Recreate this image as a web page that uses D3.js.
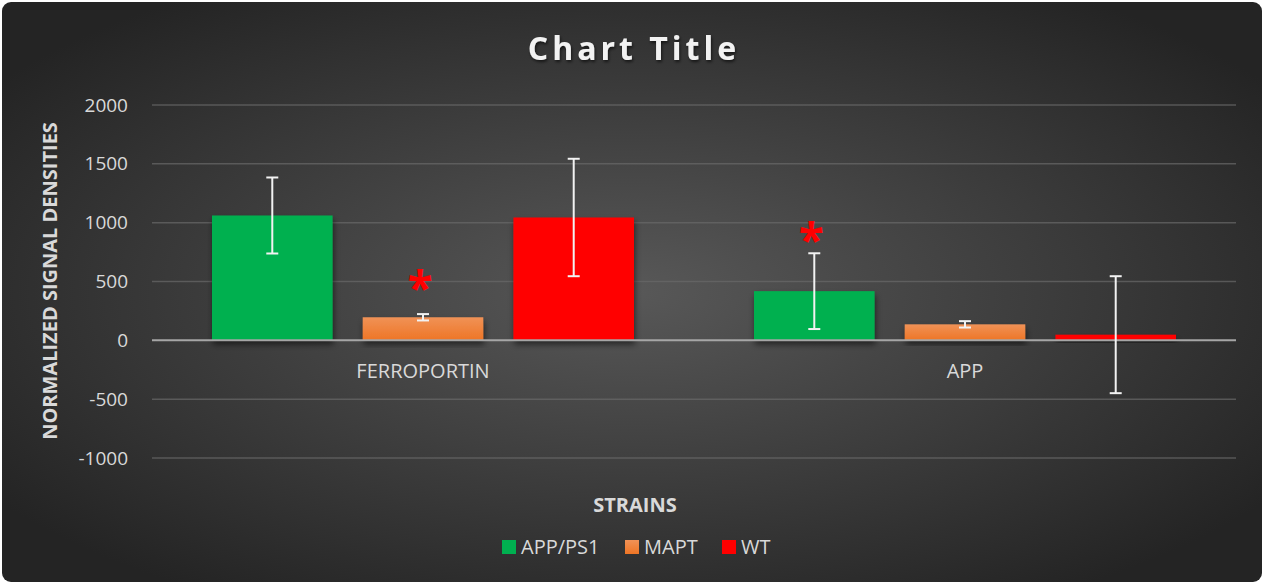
<!DOCTYPE html>
<html>
<head>
<meta charset="utf-8">
<title>Chart Title</title>
<style>
  body { margin: 0; background: #ffffff; }
  svg text { font-family: "Open Sans", "DejaVu Sans", sans-serif; }
</style>
</head>
<body>
<svg width="1265" height="585" class="chart"></svg>
<script src="https://cdn.jsdelivr.net/npm/d3@7"></script>
<script>
// data
var categories = ['FERROPORTIN', 'APP']
var seriesNames = ['APP/PS1', 'MAPT', 'WT']
var seriesColors = ['#00b050', '#ed7d31', '#ff0000']
var appPs1Values = [1061, 418]
var maptValues = [196, 136]
var wtValues = [1044, 48]
var appPs1Errors = [323, 322]
var maptErrors = [27, 27]
var wtErrors = [499, 497]
// significance markers: category, series, height (in data units) of the star
var starCats = ['FERROPORTIN', 'APP']
var starSeries = ['MAPT', 'APP/PS1']
var starLevels = [511, 919]
var yTicks = [-1000, -500, 0, 500, 1000, 1500, 2000]

var values = [appPs1Values, maptValues, wtValues]
var errors = [appPs1Errors, maptErrors, wtErrors]

var rows = []
categories.forEach(function(c, i) {
  seriesNames.forEach(function(s, j) {
    rows.push({cat: c, series: s, value: values[j][i], err: errors[j][i], color: seriesColors[j]})
  })
})
var stars = starCats.map(function(c, i) { return {cat: c, series: starSeries[i], level: starLevels[i]} })

var W = 1265, H = 585
var margin = {top: 105, right: 29, bottom: 127, left: 152}
var innerW = W - margin.left - margin.right
var innerH = H - margin.top - margin.bottom

var svg = d3.select('.chart')
var defs = svg.append('defs')

var bg = defs.append('radialGradient').attr('id', 'bg')
  .attr('cx', '50%').attr('cy', '50%').attr('r', '62%')
bg.append('stop').attr('offset', '0%').attr('stop-color', '#585858')
bg.append('stop').attr('offset', '100%').attr('stop-color', '#242424')

var og = defs.append('linearGradient').attr('id', 'orangeGrad')
  .attr('x1', 0).attr('y1', 0).attr('x2', 0).attr('y2', 1)
og.append('stop').attr('offset', '0%').attr('stop-color', '#f09257')
og.append('stop').attr('offset', '100%').attr('stop-color', '#ee7525')

var shadow = defs.append('filter').attr('id', 'shadow')
  .attr('x', '-20%').attr('y', '-20%').attr('width', '140%').attr('height', '150%')
shadow.append('feDropShadow').attr('dx', 1).attr('dy', 4).attr('stdDeviation', 3)
  .attr('flood-color', '#000').attr('flood-opacity', 0.55)

var tshadow = defs.append('filter').attr('id', 'tshadow')
tshadow.append('feDropShadow').attr('dx', 1).attr('dy', 2).attr('stdDeviation', 1.5)
  .attr('flood-color', '#000').attr('flood-opacity', 0.6)

svg.append('rect')
  .attr('x', 2).attr('y', 2).attr('width', W - 5).attr('height', H - 5)
  .attr('rx', 9).attr('fill', 'url(#bg)')

// title
svg.append('text')
  .attr('x', 634).attr('y', 60)
  .attr('text-anchor', 'middle')
  .attr('fill', '#f2f2f2')
  .attr('font-size', 32).attr('font-weight', 'bold')
  .attr('letter-spacing', 4)
  .attr('filter', 'url(#tshadow)')
  .text('Chart Title')

var g = svg.append('g').attr('transform', 'translate(' + margin.left + ',' + margin.top + ')')

var y = d3.scaleLinear().domain([-1000, 2000]).range([innerH, 0])
var x0 = d3.scaleBand().domain(categories).range([0, innerW])
var x1 = d3.scaleBand().domain(seriesNames).range([60, x0.bandwidth() - 60]).paddingInner(0.2)

// grid lines
g.append('g').selectAll('line').data(yTicks.filter(function(t) { return t !== 0 })).enter()
  .append('line')
  .attr('x1', 0).attr('x2', innerW)
  .attr('y1', function(d) { return y(d) }).attr('y2', function(d) { return y(d) })
  .attr('stroke', '#6a6a6a').attr('stroke-width', 1.5).attr('stroke-opacity', 0.7)

// y axis labels (plain hyphen for negatives, as in the original)
var yAxis = d3.axisLeft(y).tickValues(yTicks).tickSize(0).tickPadding(24)
  .tickFormat(function(d) { return String(d) })
g.append('g').call(yAxis)
  .call(function(a) { a.select('.domain').remove() })
  .selectAll('text')
  .attr('fill', '#d9d9d9').attr('font-size', 19)

// bars
g.append('g').selectAll('rect').data(rows).enter()
  .append('rect')
  .attr('x', function(d) { return x0(d.cat) + x1(d.series) })
  .attr('width', x1.bandwidth())
  .attr('y', function(d) { return y(Math.max(0, d.value)) })
  .attr('height', function(d) { return Math.abs(y(d.value) - y(0)) })
  .attr('fill', function(d) { return d.series === 'MAPT' ? 'url(#orangeGrad)' : d.color })
  .attr('filter', 'url(#shadow)')

// zero line
g.append('line')
  .attr('x1', 0).attr('x2', innerW)
  .attr('y1', y(0)).attr('y2', y(0))
  .attr('stroke', '#a6a6a6').attr('stroke-width', 2)

// category labels
g.append('g').selectAll('text').data(categories).enter()
  .append('text')
  .attr('x', function(d) { return x0(d) + x0.bandwidth() / 2 })
  .attr('y', y(0) + 38)
  .attr('text-anchor', 'middle')
  .attr('fill', '#d9d9d9').attr('font-size', 20)
  .text(function(d) { return d })

// error bars
var eb = g.append('g').selectAll('g').data(rows).enter().append('g')
  .attr('stroke', '#f2f2f2').attr('stroke-width', 2)
eb.append('line')
  .attr('x1', function(d) { return x0(d.cat) + x1(d.series) + x1.bandwidth() / 2 })
  .attr('x2', function(d) { return x0(d.cat) + x1(d.series) + x1.bandwidth() / 2 })
  .attr('y1', function(d) { return y(d.value + d.err) })
  .attr('y2', function(d) { return y(d.value - d.err) })
eb.selectAll('.cap').data(function(d) { return [d.value + d.err, d.value - d.err].map(function(v) { return {d: d, v: v} }) })
  .enter().append('line')
  .attr('class', 'cap')
  .attr('x1', function(e) { return x0(e.d.cat) + x1(e.d.series) + x1.bandwidth() / 2 - 6 })
  .attr('x2', function(e) { return x0(e.d.cat) + x1(e.d.series) + x1.bandwidth() / 2 + 6 })
  .attr('y1', function(e) { return y(e.v) })
  .attr('y2', function(e) { return y(e.v) })

// asterisks, centred on their level
g.append('g').selectAll('text').data(stars).enter()
  .append('text')
  .attr('x', function(d) { return x0(d.cat) + x1(d.series) + x1.bandwidth() / 2 - 3 })
  .attr('y', function(d) { return y(d.level) + 25 })
  .attr('text-anchor', 'middle')
  .attr('fill', '#ff0000').attr('font-size', 46).attr('font-weight', 'bold')
  .text('*')

// axis titles
svg.append('text')
  .attr('transform', 'translate(57,281) rotate(-90)')
  .attr('text-anchor', 'middle')
  .attr('fill', '#d9d9d9').attr('font-size', 20).attr('font-weight', 'bold')
  .text('NORMALIZED SIGNAL DENSITIES')

svg.append('text')
  .attr('x', 635).attr('y', 512)
  .attr('text-anchor', 'middle')
  .attr('fill', '#d9d9d9').attr('font-size', 20).attr('font-weight', 'bold')
  .text('STRAINS')

// legend
var legendX = [502, 625, 722]
var lg = svg.append('g').selectAll('g').data(seriesNames).enter().append('g')
  .attr('transform', function(d, i) { return 'translate(' + legendX[i] + ',540)' })
lg.append('rect').attr('width', 14).attr('height', 14)
  .attr('fill', function(d, i) { return i === 1 ? 'url(#orangeGrad)' : seriesColors[i] })
lg.append('text').attr('x', 19).attr('y', 14)
  .attr('fill', '#d9d9d9').attr('font-size', 20)
  .text(function(d) { return d })
</script>
</body>
</html>
